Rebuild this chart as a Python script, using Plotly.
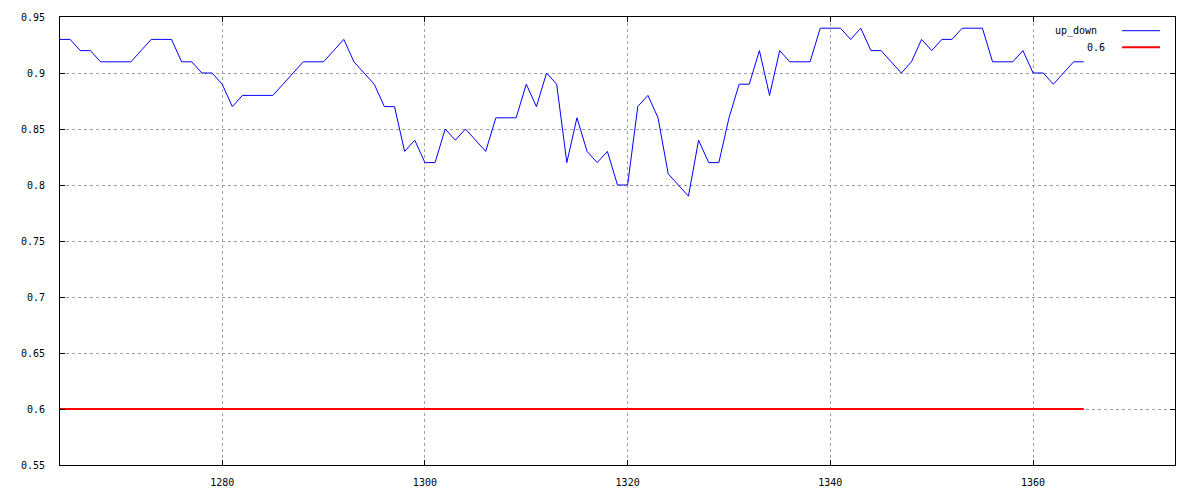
import plotly.graph_objects as go

# ---- data ----
X_VALUES = list(range(1264, 1366))
UP_DOWN = [
    0.93, 0.93, 0.92, 0.92, 0.91, 0.91, 0.91, 0.91, 0.92, 0.93,
    0.93, 0.93, 0.91, 0.91, 0.90, 0.90, 0.89, 0.87, 0.88, 0.88,
    0.88, 0.88, 0.89, 0.90, 0.91, 0.91, 0.91, 0.92, 0.93, 0.91,
    0.90, 0.89, 0.87, 0.87, 0.83, 0.84, 0.82, 0.82, 0.85, 0.84,
    0.85, 0.84, 0.83, 0.86, 0.86, 0.86, 0.89, 0.87, 0.90, 0.89,
    0.82, 0.86, 0.83, 0.82, 0.83, 0.80, 0.80, 0.87, 0.88, 0.86,
    0.81, 0.80, 0.79, 0.84, 0.82, 0.82, 0.86, 0.89, 0.89, 0.92,
    0.88, 0.92, 0.91, 0.91, 0.91, 0.94, 0.94, 0.94, 0.93, 0.94,
    0.92, 0.92, 0.91, 0.90, 0.91, 0.93, 0.92, 0.93, 0.93, 0.94,
    0.94, 0.94, 0.91, 0.91, 0.91, 0.92, 0.90, 0.90, 0.89, 0.90,
    0.91, 0.91,
]
THRESHOLD = 0.6
SERIES_NAMES = ["up_down", "0.6"]
Y_TICKS = [0.55, 0.6, 0.65, 0.7, 0.75, 0.8, 0.85, 0.9, 0.95]
Y_TICK_TEXT = ["0.55", "0.6", "0.65", "0.7", "0.75", "0.8", "0.85", "0.9", "0.95"]
X_TICKS = [1280, 1300, 1320, 1340, 1360]
X_TICK_TEXT = ["1280", "1300", "1320", "1340", "1360"]
X_RANGE = [1264, 1374]
Y_RANGE = [0.55, 0.95]

BLUE = "#0000ff"
RED = "#ff0000"
FONT = dict(family="DejaVu Sans Mono", size=10, color="#000000")

fig = go.Figure()
fig.add_trace(go.Scatter(
    x=X_VALUES, y=UP_DOWN, mode="lines", name=SERIES_NAMES[0],
    line=dict(color=BLUE, width=1), showlegend=False,
))
fig.add_trace(go.Scatter(
    x=X_VALUES, y=[THRESHOLD] * len(X_VALUES), mode="lines", name=SERIES_NAMES[1],
    line=dict(color=RED, width=2), showlegend=False,
))

axis_common = dict(
    showline=True, linecolor="#000000", linewidth=1, mirror="ticks",
    ticks="inside", ticklen=5, tickcolor="#000000", tickwidth=1,
    showgrid=True, gridcolor="#a0a0a0", gridwidth=1, griddash="dot",
    zeroline=False, tickfont=FONT, automargin=False,
)

fig.update_xaxes(range=X_RANGE, tickvals=X_TICKS, ticktext=X_TICK_TEXT,
                 ticklabelstandoff=8, **axis_common)
fig.update_yaxes(range=Y_RANGE, tickvals=Y_TICKS, ticktext=Y_TICK_TEXT,
                 ticklabelstandoff=12, **axis_common)

# gnuplot-style legend: text right-aligned, line sample on the right
legend_rows = [(SERIES_NAMES[0], BLUE, 1, 0.9318, 0.9694),
               (SERIES_NAMES[1], RED, 2, 0.9390, 0.9324)]
for name, color, width, xp, yp in legend_rows:
    fig.add_annotation(xref="paper", yref="paper", x=xp, y=yp, text=name,
                       showarrow=False, xanchor="right", yanchor="middle",
                       font=FONT)
    fig.add_shape(type="line", xref="paper", yref="paper", x0=0.9525, x1=0.9865,
                  y0=yp, y1=yp, line=dict(color=color, width=width))

fig.update_layout(
    width=1200, height=500,
    margin=dict(l=60, r=25, t=17, b=35, autoexpand=False),
    plot_bgcolor="#ffffff", paper_bgcolor="#ffffff",
    font=FONT,
)

fig.write_html("out.html", config={"displayModeBar": False},
               post_script="document.body.style.margin='0';document.body.style.padding='0';")
